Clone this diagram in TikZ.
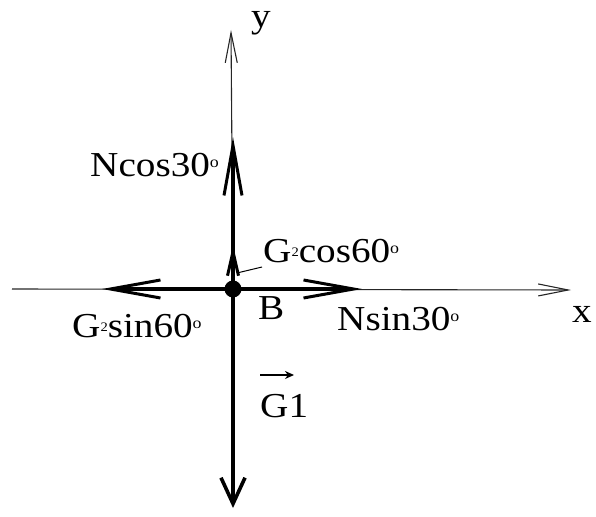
\documentclass[tikz,border=0pt]{standalone}
\usepackage{fontspec}
\setmainfont{Liberation Serif}[FakeStretch=1.12]
\usetikzlibrary{arrows.meta}
\newcommand\degsym{\raisebox{9pt}{\fontsize{16}{16}\selectfont o}}
\newcommand\subtwo{\raisebox{6pt}{\fontsize{13}{13}\selectfont 2}}
\begin{document}
\begin{tikzpicture}[x=1pt,y=-1pt,
  lbl/.style={inner sep=0pt,anchor=base west,font=\fontsize{35}{40}\selectfont},
  thinaxis/.style={line width=1.1pt,black!85},
  force/.style={line width=3.8pt},
  bigtip/.style={-{Straight Barb[length=50pt,width=18pt,line width=3pt]}},
  downtip/.style={-{Straight Barb[length=26pt,width=24pt,line width=3.6pt]}},
  smalltip/.style={-{Straight Barb[length=24pt,width=11pt,line width=3pt]}},
  axistip/.style={-{Straight Barb[length=30pt,width=12pt,line width=1.1pt]}}]
\useasboundingbox (0,0) rectangle (596,516);
% points
\coordinate (B) at (233,289);
\coordinate (xl) at (12,289);
\coordinate (xr) at (571,290);
\coordinate (yt) at (231,30);
\coordinate (nc) at (233,137);
\coordinate (gc) at (233,245);
\coordinate (gs) at (102,289);
\coordinate (ns) at (362,289);
\coordinate (g1) at (233,508);
% axes
\draw[thinaxis,axistip] (xl) -- (xr);
\draw[thinaxis,axistip] (B) -- (yt);
% forces
\draw[force,bigtip] (B) -- (nc);
\draw[force,smalltip] (B) -- (gc);
\draw[force,bigtip] (B) -- (gs);
\draw[force,bigtip] (B) -- (ns);
\draw[force,downtip] (B) -- (g1);
\fill (B) circle (8.5pt);
% labels
\node[lbl] (ylab) at (251,28) {y};
\node[lbl] (xlab) at (572,322) {x};
\node[lbl] (Blab) at (258,319) {B};
\node[lbl] (ncl) at (90,176) {Ncos30\degsym};
\node[lbl] (gcl) at (263,262) {G\subtwo cos60\degsym};
\node[lbl] (gsl) at (72,337) {G\subtwo sin60\degsym};
\node[lbl] (nsl) at (337,330) {Nsin30\degsym};
\node[lbl] (g1l) at (260,417) {G1};
% leader for G2cos60
\coordinate (ldA) at (237,273);
\coordinate (ldB) at (262,267);
\draw[line width=1pt] (ldA) -- (ldB);
% vector arrow over G1
\coordinate (va) at (260,375);
\coordinate (vb) at (294,375);
\draw[line width=1.8pt,-{Stealth[length=9pt,width=8pt]}] (va) -- (vb);
\end{tikzpicture}
\end{document}
